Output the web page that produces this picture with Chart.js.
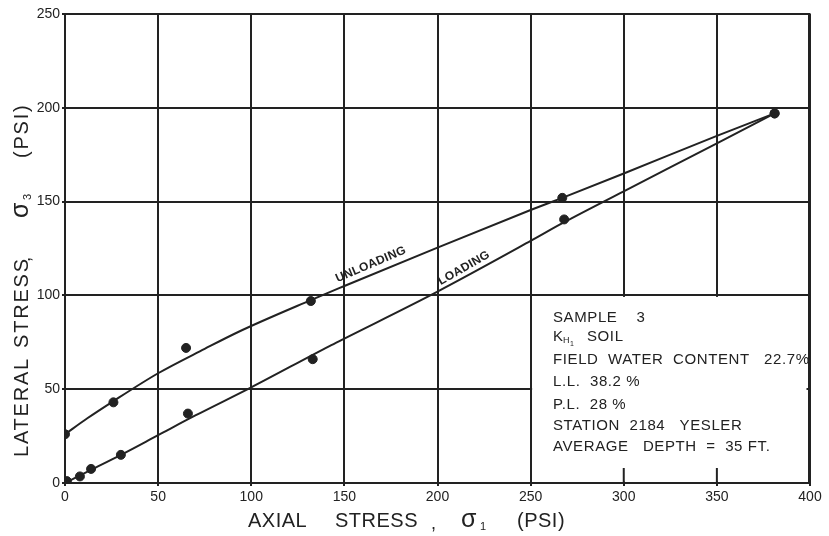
<!DOCTYPE html>
<html>
<head>
<meta charset="utf-8">
<script src="https://cdn.jsdelivr.net/npm/chart.js@4.4.0/dist/chart.umd.min.js"></script>
<style>
body { margin: 0; background: #fff; }
#wrap { width: 829px; height: 536px; position: relative; }
</style>
</head>
<body>
<div id="wrap"><canvas id="stressChart"></canvas></div>
<script>
// measured points (axial, lateral) in PSI
const unloadingX = [0, 26, 65, 132, 267, 381];
const unloadingY = [26, 43, 72, 97, 152, 197];
const loadingX = [1, 8, 14, 30, 66, 133, 268, 381];
const loadingY = [1, 3.5, 7.5, 15, 37, 66, 140.5, 197];

// hand drawn curves
const unloadCurveX = [0, 12, 25, 50, 75, 93, 132, 150, 200, 250, 267, 300, 350, 381];
const unloadCurveY = [26, 34.5, 43, 58.5, 71.5, 80.5, 97.5, 105, 125.5, 145.5, 152, 165, 185, 197];
const loadCurveX = [0, 14, 30, 50, 70, 100, 142, 150, 200, 250, 268, 300, 350, 381];
const loadCurveY = [0, 7, 15, 25.5, 36, 51, 73, 77, 102, 129, 139, 155.5, 181, 197];

const xTicks = [0, 50, 100, 150, 200, 250, 300, 350, 400];
const yTicks = [0, 50, 100, 150, 200, 250];

const sampleNotes = [
    'SAMPLE    3',
    'K_SOIL',
    'FIELD  WATER  CONTENT   22.7%',
    'L.L.  38.2 %',
    'P.L.  28 %',
    'STATION  2184   YESLER',
    'AVERAGE   DEPTH  =  35 FT.'
];

const ink = '#222';
const textInk = '#222';
const thinFont = '"Liberation Sans", Arial, sans-serif';

function pairs(xs, ys) {
    return xs.map((v, i) => ({x: v, y: ys[i]}));
}

// draws a list of [text, offset, size, dy] along a baseline
function drawRun(ctx, parts, spacing) {
    parts.forEach(p => {
        ctx.font = p[2] + 'px ' + thinFont;
        ctx.letterSpacing = spacing;
        ctx.fillText(p[0], p[1], p[3] || 0);
    });
}

const paperNotes = {
    id: 'paperNotes',
    beforeDatasetsDraw(chart) {
        const {ctx, scales: {x, y}} = chart;
        const l = x.getPixelForValue(250), r = x.getPixelForValue(400);
        const t = y.getPixelForValue(100), b = y.getPixelForValue(0);
        ctx.save();
        ctx.fillStyle = '#fff';
        ctx.fillRect(l + 1.5, t + 1.5, r - l - 5, b - t - 3);
        ctx.strokeStyle = ink;
        ctx.lineWidth = 2;
        [300, 350].forEach(v => {
            const p = x.getPixelForValue(v);
            ctx.beginPath();
            ctx.moveTo(p, b);
            ctx.lineTo(p, b - 15);
            ctx.stroke();
        });
        ctx.restore();
    },
    afterDraw(chart) {
        const {ctx, chartArea, scales: {x, y}} = chart;
        ctx.save();

        // right frame edge through the note box
        ctx.fillStyle = ink;
        ctx.fillRect(Math.round(chartArea.right) - 2, chartArea.top - 1, 2.5, chartArea.bottom - chartArea.top + 2);

        ctx.fillStyle = textInk;
        ctx.textBaseline = 'alphabetic';

        // x axis title
        ctx.save();
        ctx.translate(248, 527);
        drawRun(ctx, [['AXIAL', 0, 20], ['STRESS', 87, 20], [',', 183, 18, 2],
            ['σ', 213, 25], ['1', 232, 11, 3], ['(PSI)', 269, 20]], '0.5px');
        ctx.restore();

        // y axis title
        ctx.save();
        ctx.translate(28, 457);
        ctx.rotate(-Math.PI / 2);
        drawRun(ctx, [['LATERAL', 0, 20], ['STRESS', 109, 20], [',', 195, 18, 2],
            ['σ', 239, 25], ['3', 257, 11, 3], ['(PSI)', 299, 20]], '1.8px');
        ctx.restore();

        // curve labels
        ctx.font = 'bold 12px ' + thinFont;
        ctx.letterSpacing = '0.3px';
        ctx.textAlign = 'center';
        ctx.textBaseline = 'bottom';
        [['UNLOADING', 164, 117, -23], ['LOADING', 214, 115, -30]].forEach(lb => {
            ctx.save();
            ctx.translate(x.getPixelForValue(lb[1]), y.getPixelForValue(lb[2]));
            ctx.rotate(lb[3] * Math.PI / 180);
            ctx.fillText(lb[0], 0, 7);
            ctx.restore();
        });

        // sample box text
        ctx.textAlign = 'left';
        ctx.textBaseline = 'middle';
        ctx.letterSpacing = '0.6px';
        const bx = 553;
        const rows = [318, 337, 360, 382, 405, 426, 447];
        sampleNotes.forEach((line, i) => {
            ctx.font = '15px ' + thinFont;
            if (line.startsWith('K_')) {
                ctx.fillText('K', bx, rows[i]);
                ctx.font = '9px ' + thinFont;
                ctx.fillText('H', bx + 10, rows[i] + 4);
                ctx.font = '7px ' + thinFont;
                ctx.fillText('1', bx + 17, rows[i] + 7);
                ctx.font = '15px ' + thinFont;
                ctx.fillText('SOIL', bx + 34, rows[i]);
            } else {
                ctx.fillText(line, bx, rows[i]);
            }
        });
        ctx.restore();
    }
};

const ctx = document.getElementById('stressChart').getContext('2d');
const stressChart = new Chart(ctx, {
    type: 'scatter',
    data: {
        datasets: [
            {
                label: 'Unloading curve',
                data: pairs(unloadCurveX, unloadCurveY),
                showLine: true,
                borderColor: ink,
                borderWidth: 2,
                pointRadius: 0,
                cubicInterpolationMode: 'monotone'
            },
            {
                label: 'Loading curve',
                data: pairs(loadCurveX, loadCurveY),
                showLine: true,
                borderColor: ink,
                borderWidth: 2,
                pointRadius: 0,
                cubicInterpolationMode: 'monotone'
            },
            {
                label: 'Unloading',
                data: pairs(unloadingX, unloadingY),
                backgroundColor: ink,
                borderColor: ink,
                pointRadius: 4.5
            },
            {
                label: 'Loading',
                data: pairs(loadingX, loadingY),
                backgroundColor: ink,
                borderColor: ink,
                pointRadius: 4.5
            }
        ]
    },
    options: {
        responsive: true,
        maintainAspectRatio: false,
        animation: false,
        layout: { padding: { top: 14, right: 19, left: 0, bottom: 0 } },
        plugins: {
            legend: { display: false },
            tooltip: { enabled: false }
        },
        scales: {
            x: {
                type: 'linear',
                min: 0,
                max: 400,
                afterFit: s => { s.height = 53; },
                afterBuildTicks: s => { s.ticks = xTicks.map(v => ({value: v})); },
                grid: { color: ink, lineWidth: 2, tickLength: 3 },
                border: { color: ink, width: 2 },
                ticks: { color: textInk, padding: 3, font: { size: 14, family: thinFont } }
            },
            y: {
                type: 'linear',
                min: 0,
                max: 250,
                afterFit: s => { s.width = 65; },
                afterBuildTicks: s => { s.ticks = yTicks.map(v => ({value: v})); },
                grid: { color: ink, lineWidth: 2, tickLength: 3 },
                border: { color: ink, width: 2 },
                ticks: { color: textInk, padding: 2, font: { size: 14, family: thinFont } }
            }
        }
    },
    plugins: [paperNotes]
});
</script>
</body>
</html>
